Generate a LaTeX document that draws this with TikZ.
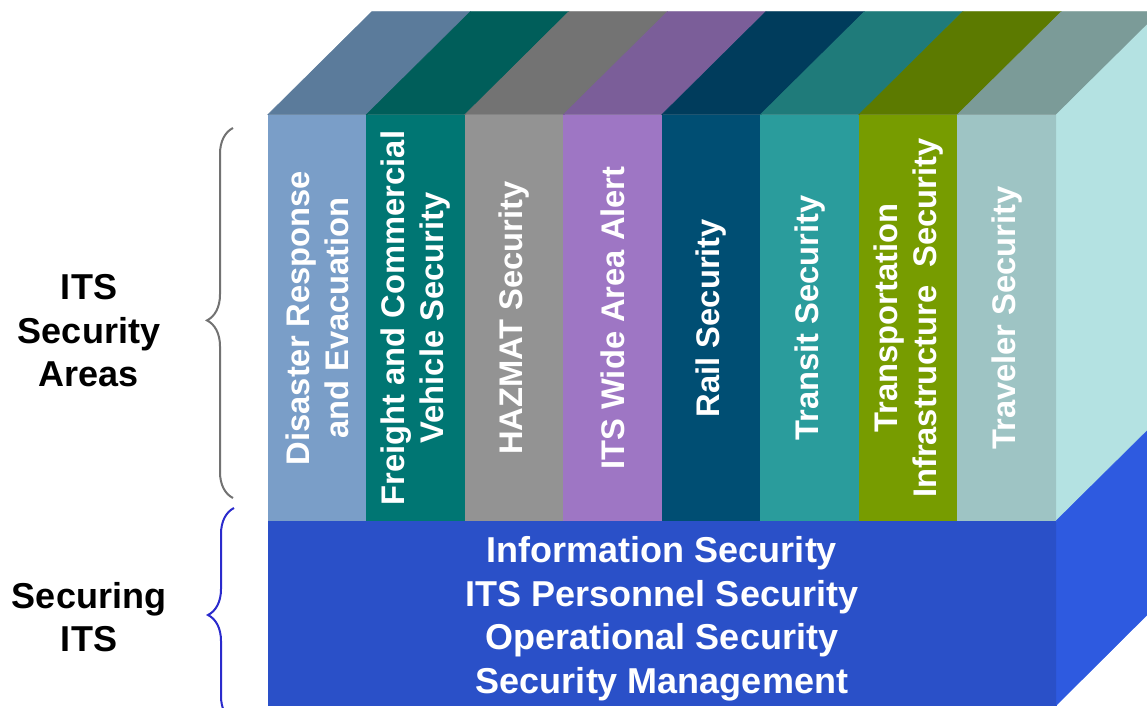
\documentclass[tikz,border=0pt]{standalone}
\usepackage{fontspec}
\setmainfont{Liberation Sans}
\usetikzlibrary{decorations.pathreplacing}

\definecolor{disFront}{HTML}{7A9EC8}
\definecolor{disTop}{HTML}{5B7B9B}
\definecolor{frtFront}{HTML}{007673}
\definecolor{frtTop}{HTML}{005E5A}
\definecolor{hazFront}{HTML}{939393}
\definecolor{hazTop}{HTML}{737373}
\definecolor{altFront}{HTML}{9E76C4}
\definecolor{altTop}{HTML}{7B5E99}
\definecolor{railFront}{HTML}{004E73}
\definecolor{railTop}{HTML}{003C5C}
\definecolor{trnFront}{HTML}{2A9C9C}
\definecolor{trnTop}{HTML}{1F7B7A}
\definecolor{infFront}{HTML}{779C00}
\definecolor{infTop}{HTML}{5C7A00}
\definecolor{travFront}{HTML}{9EC4C4}
\definecolor{travTop}{HTML}{7B9B98}
\definecolor{sideUpper}{HTML}{B4E2E2}
\definecolor{baseFront}{HTML}{2A50C8}
\definecolor{baseSide}{HTML}{2E5AE0}
\definecolor{braceGray}{HTML}{727272}
\definecolor{braceBlue}{HTML}{2A2ACC}

\begin{document}
\begin{tikzpicture}
		[x=1pt, y=1pt, inner sep=0pt,
		column/.style	= {rectangle, rotate=90, minimum width=406pt, minimum height=98.5pt, line width=0.5pt, text=white, align=center, font=\fontsize{32.7}{39}\selectfont\bfseries},
		block/.style	= {rectangle, minimum width=788pt, minimum height=184pt, line width=0.5pt},
		blocktext/.style	= {text=white, align=center, font=\fontsize{36}{43.5}\selectfont\bfseries},
		heading/.style	= {align=center, font=\fontsize{36}{43.5}\selectfont\bfseries},
		topface/.style	= {line width=0.5pt},
		sidebrace/.style	= {decorate, decoration={brace, amplitude=26pt}, line width=2pt}]
		
		\useasboundingbox (0,0) rectangle (1147,707);
		\clip (0,0) rectangle (1147,707);
		
		\node at (317.25, 389)	[column, fill=disFront, draw=disFront]	(disaster)	{Disaster Response\\and Evacuation};
		\node at (415.75, 389)	[column, fill=frtFront, draw=frtFront]	(freight)	{Freight and Commercial\\Vehicle Security};
		\node at (514.25, 389)	[column, fill=hazFront, draw=hazFront]	(hazmat)	{HAZMAT Security};
		\node at (612.75, 389)	[column, fill=altFront, draw=altFront]	(alert)		{ITS Wide Area Alert};
		\node at (711.25, 389)	[column, fill=railFront, draw=railFront]	(rail)		{Rail Security};
		\node at (809.75, 389)	[column, fill=trnFront, draw=trnFront]	(transit)	{Transit Security};
		\node at (908.25, 389)	[column, fill=infFront, draw=infFront]	(infra)		{Transportation\\Infrastructure~~Security};
		\node at (1006.75, 389)	[column, fill=travFront, draw=travFront]	(traveler)	{Traveler Security};
		
		\node at (662, 94)		[block, fill=baseFront, draw=baseFront]	(base)	{};
		\node at (662, 88)		[blocktext]	(baseitems)	{Information Security\\ITS Personnel Security\\Operational Security\\Security Management};
		
		\node at (89, 376)		[heading]	(areas)		{ITS\\Security\\Areas};
		\node at (89, 90)		[heading]	(securing)	{Securing\\ITS};
		
		% top faces (a rotated column has north east at its top left)
		\filldraw [topface, fill=disTop, draw=disTop] (disaster.north east) -- ++(104,103) -- ++(98.5,0) -- (disaster.south east) -- cycle;
		\filldraw [topface, fill=frtTop, draw=frtTop] (freight.north east) -- ++(104,103) -- ++(98.5,0) -- (freight.south east) -- cycle;
		\filldraw [topface, fill=hazTop, draw=hazTop] (hazmat.north east) -- ++(104,103) -- ++(98.5,0) -- (hazmat.south east) -- cycle;
		\filldraw [topface, fill=altTop, draw=altTop] (alert.north east) -- ++(104,103) -- ++(98.5,0) -- (alert.south east) -- cycle;
		\filldraw [topface, fill=railTop, draw=railTop] (rail.north east) -- ++(104,103) -- ++(98.5,0) -- (rail.south east) -- cycle;
		\filldraw [topface, fill=trnTop, draw=trnTop] (transit.north east) -- ++(104,103) -- ++(98.5,0) -- (transit.south east) -- cycle;
		\filldraw [topface, fill=infTop, draw=infTop] (infra.north east) -- ++(104,103) -- ++(98.5,0) -- (infra.south east) -- cycle;
		\filldraw [topface, fill=travTop, draw=travTop] (traveler.north east) -- ++(104,103) -- ++(98.5,0) -- (traveler.south east) -- cycle;
		
		% right side
		\filldraw [topface, fill=sideUpper, draw=sideUpper] (traveler.south east) -- ++(104,103) -- ++(0,-406) -- (traveler.south west) -- cycle;
		\filldraw [topface, fill=baseSide, draw=baseSide] (base.north east) -- ++(104,103) -- ++(0,-184) -- (base.south east) -- cycle;
		
		% braces
		\coordinate (areasLow)	at (233, 209);
		\coordinate (areasHigh)	at (233, 579);
		\coordinate (secLow)	at (234, -15);
		\coordinate (secHigh)	at (234, 199);
		
		\draw [sidebrace, draw=braceGray, decoration={aspect=0.48}] (areasLow) -- (areasHigh);
		\draw [sidebrace, draw=braceBlue, decoration={aspect=0.5}] (secLow) -- (secHigh);
		
\end{tikzpicture}
\end{document}
